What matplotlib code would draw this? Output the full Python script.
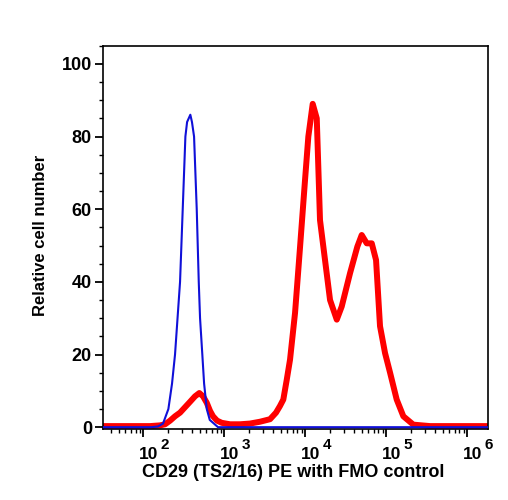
import numpy as np
import matplotlib
matplotlib.use("Agg")
import matplotlib.pyplot as plt
from matplotlib.ticker import LogLocator, MultipleLocator, NullFormatter

plt.rcParams["font.family"] = ["Liberation Sans", "DejaVu Sans"]
plt.rcParams["font.weight"] = "bold"

# FMO control (blue): decade exponent of intensity, relative cell number
fmo_exp = [1.50, 2.10, 2.181, 2.243, 2.309, 2.354, 2.391, 2.453, 2.486, 2.519, 2.54,
           2.580, 2.60, 2.626, 2.659, 2.684, 2.70, 2.728, 2.75, 2.783, 2.82, 2.922, 4.0, 6.26]
fmo_y = [0, 0, 0.2, 1, 5, 12, 20, 40, 60, 80, 84,
         86, 84, 80, 60, 40, 30, 20, 12, 5, 2, 0, 0, 0]

# CD29 stained (red)
cd29_exp = [1.50, 2.083, 2.206, 2.268, 2.33, 2.391, 2.453, 2.515, 2.577, 2.638, 2.691,
            2.737, 2.783, 2.823, 2.86, 2.91, 2.968, 3.07, 3.194, 3.317, 3.44, 3.564,
            3.638, 3.686, 3.728, 3.77, 3.811, 3.873, 3.935, 3.996, 4.037, 4.091, 4.141,
            4.181, 4.243, 4.305, 4.388, 4.449, 4.552, 4.642, 4.696, 4.758, 4.82, 4.873,
            4.922, 4.984, 5.046, 5.128, 5.21, 5.333, 5.54, 6.26]
cd29_y = [0.3, 0.3, 0.5, 0.8, 1.8, 3, 4, 5.5, 7, 8.5, 9.4,
          8.5, 6.7, 4.5, 3, 1.8, 1.2, 0.8, 0.8, 1.0, 1.5, 2.2,
          4, 5.8, 7.6, 13, 18.6, 31.5, 49.7, 68, 80, 89, 85,
          57, 46, 35, 29.6, 33.2, 42.4, 49.7, 52.9, 50.6, 50.6, 46,
          27.8, 20.4, 15, 7.6, 3, 0.7, 0.3, 0.3]

decades = [2, 3, 4, 5, 6]

fig = plt.figure(figsize=(5.08, 5.00), dpi=100)
fig.patch.set_facecolor("white")
ax = fig.add_axes([0.2028, 0.142, 0.7578, 0.7666])

ax.plot(np.power(10.0, cd29_exp), cd29_y, color="#ff0000", linewidth=4.3,
        solid_joinstyle="round", solid_capstyle="butt", zorder=2)
ax.plot(np.power(10.0, fmo_exp), fmo_y, color="#1010d8", linewidth=1.5, zorder=3)

ax.set_xscale("log")
ax.set_xlim(10 ** 1.502, 10 ** 6.255)
ax.set_ylim(-0.5, 105)

ax.xaxis.set_major_locator(LogLocator(base=10, numticks=10))
ax.xaxis.set_minor_locator(LogLocator(base=10, subs=np.arange(2, 10), numticks=20))
ax.xaxis.set_major_formatter(NullFormatter())
ax.xaxis.set_minor_formatter(NullFormatter())
ax.yaxis.set_major_locator(MultipleLocator(20))
ax.yaxis.set_minor_locator(MultipleLocator(5))

ax.tick_params(axis="both", which="major", direction="out", length=6, width=1.3,
               colors="black", pad=2)
ax.tick_params(axis="y", which="major", labelsize=13)
ax.tick_params(axis="both", which="minor", direction="out", length=3, width=1.0)
for lab in ax.get_yticklabels():
    lab.set_fontweight("bold")

# decade labels drawn as "10" plus a large exponent, like the cytometry software does
for e in decades:
    ax.annotate("10", xy=(10.0 ** e, 0), xycoords=("data", "axes fraction"),
                xytext=(-3.0, -21.6), textcoords="offset points",
                ha="left", va="baseline", fontsize=12.5, fontweight="bold")
    ax.annotate(str(e), xy=(10.0 ** e, 0), xycoords=("data", "axes fraction"),
                xytext=(12.4, -14.2), textcoords="offset points",
                ha="left", va="baseline", fontsize=11, fontweight="bold")

for side in ax.spines.values():
    side.set_linewidth(1.2)
    side.set_color("black")

ax.set_xlabel("CD29 (TS2/16) PE with FMO control", fontsize=13, fontweight="bold")
ax.xaxis.set_label_coords(0.4935, -0.091)
ax.set_ylabel("Relative cell number", fontsize=12, fontweight="bold")
ax.yaxis.set_label_coords(-0.144, 0.505)

fig.savefig("out.png", dpi=100, facecolor="white")
